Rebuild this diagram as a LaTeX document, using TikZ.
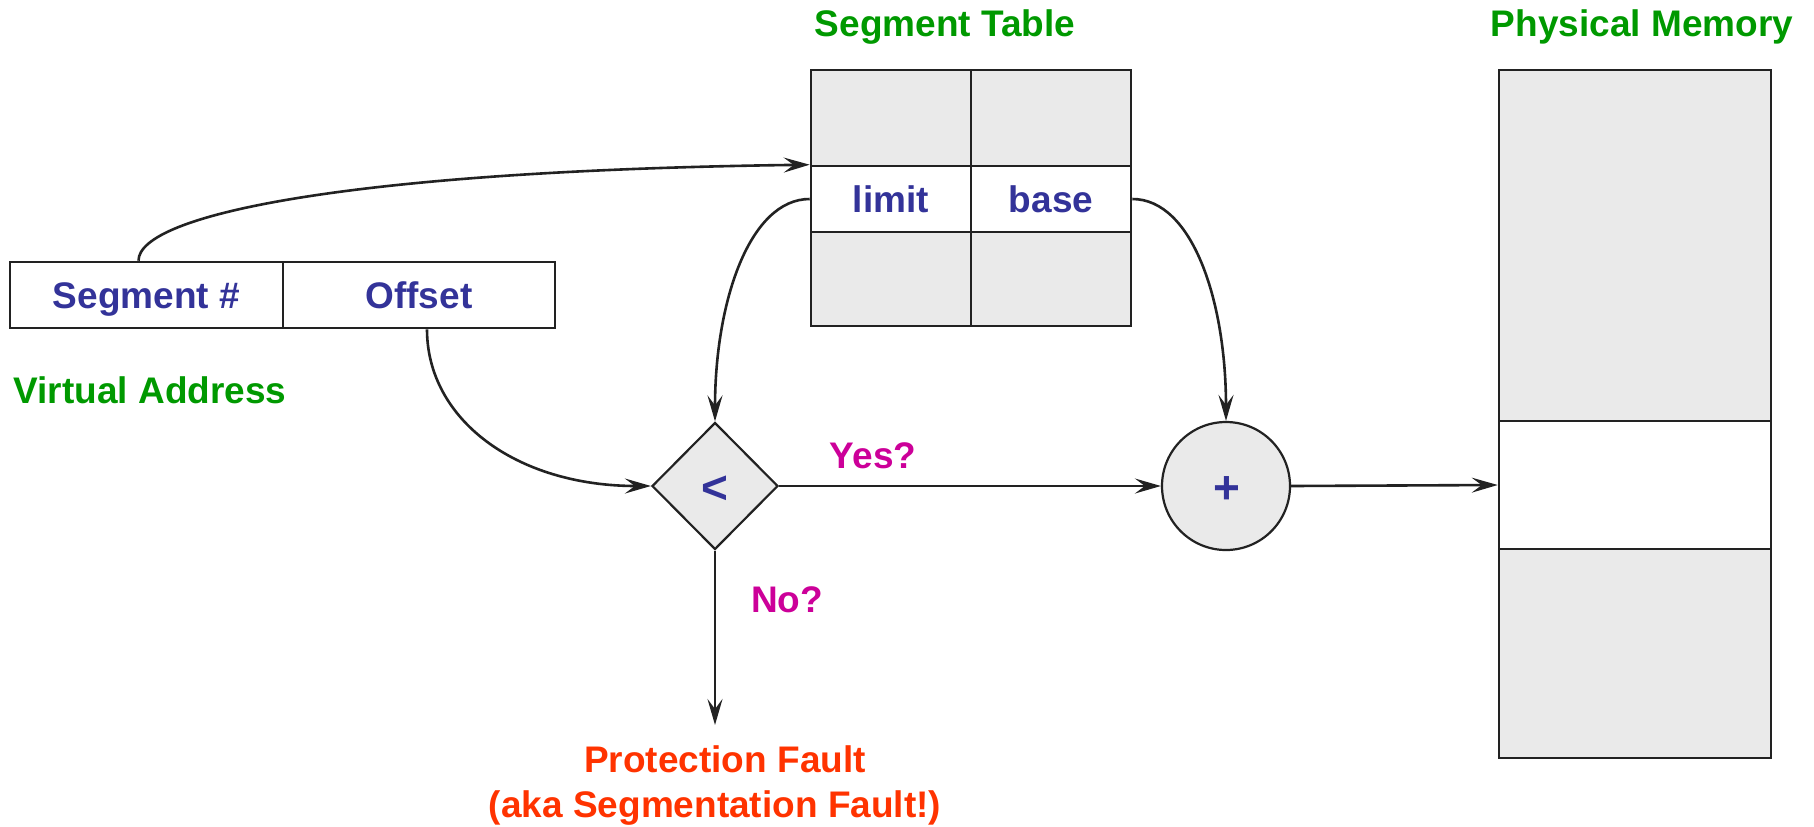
\documentclass[tikz,border=0pt]{standalone}
\usepackage{fontspec}
\setmainfont{Liberation Sans}
\usetikzlibrary{arrows.meta,shapes.geometric}
\definecolor{txtblue}{RGB}{51,51,153}
\definecolor{txtgreen}{RGB}{0,153,0}
\definecolor{txtmag}{RGB}{204,0,153}
\definecolor{txtred}{RGB}{255,51,0}
\definecolor{cellgray}{RGB}{234,234,234}
\definecolor{linecol}{RGB}{34,34,34}
\begin{document}
\begin{tikzpicture}[x=0.5pt,y=-0.5pt,
  every node/.style={font=\fontsize{18.5}{22.5}\selectfont\bfseries},
  box/.style={draw=linecol, line width=1.3pt, inner sep=0pt, text=txtblue, text height=13.2pt, text depth=0pt},
  grayc/.style={box, fill=cellgray},
  whitec/.style={box, fill=white},
  opnode/.style={draw=linecol, line width=1.1pt, fill=cellgray, inner sep=0pt, text=txtblue, font=\fontsize{23}{26}\selectfont\bfseries},
  arr/.style={draw=linecol, line width=1.3pt, -{Stealth[length=13pt,width=7.5pt,inset=5pt]}},
  lbl/.style={anchor=base, inner sep=0pt}
]
\useasboundingbox (0,0) rectangle (1814,826);

% virtual address
\node[whitec, minimum width=136.5pt, minimum height=33pt] (seg) at (146.5,295) {Segment \#};
\node[whitec, minimum width=136pt, minimum height=33pt] (off) at (419,295) {Offset};

% segment table
\node[grayc, minimum width=80pt, minimum height=48pt] (t11) at (891,118) {};
\node[grayc, minimum width=80pt, minimum height=48pt] (t12) at (1051,118) {};
\node[whitec, minimum width=80pt, minimum height=33pt] (tl) at (891,199) {limit};
\node[whitec, minimum width=80pt, minimum height=33pt] (tb) at (1051,199) {base};
\node[grayc, minimum width=80pt, minimum height=47pt] (t31) at (891,279) {};
\node[grayc, minimum width=80pt, minimum height=47pt] (t32) at (1051,279) {};

% physical memory
\node[grayc, minimum width=136pt, minimum height=175.5pt] (pm1) at (1635,245.5) {};
\node[whitec, minimum width=136pt, minimum height=64pt] (pm2) at (1635,485) {};
\node[grayc, minimum width=136pt, minimum height=104.5pt] (pm3) at (1635,653.5) {};

% compare and add
\node[diamond, opnode, minimum width=63pt, minimum height=63.5pt] (dia) at (715,486) {};
\node[circle, opnode, minimum size=64pt] (circ) at (1226,486) {};
\node[text=txtblue, font=\fontsize{23}{26}\selectfont\bfseries, inner sep=0pt] (lt) at (715,490) {<};
\node[text=txtblue, font=\fontsize{23}{26}\selectfont\bfseries, inner sep=0pt] (plus) at (1227,490) {+};

% labels
\node[lbl, text=txtgreen] (st) at (945,36) {Segment Table};
\node[lbl, text=txtgreen] (pmt) at (1642,36.5) {Physical Memory};
\node[lbl, text=txtgreen] (va) at (150,403) {Virtual Address};
\node[lbl, text=txtmag] (yes) at (873,468) {Yes?};
\node[lbl, text=txtmag] (no) at (787,612) {No?};
\coordinate (pfa) at (715,725);
\node[anchor=north, text=txtred, align=center, inner sep=0pt] (pf) at (715,745) {\hspace*{10pt}Protection Fault\\(aka Segmentation Fault!)};

% connectors
\draw[arr] ([xshift=-4pt]seg.north) .. controls +(0,-46) and +(-461,6) .. (tl.north west);
\draw[arr] ([xshift=4pt]off.south) .. controls +(0,90) and +(-135,0) .. (dia.west);
\draw[arr] (tl.west) .. controls +(-60,0) and +(0,-120) .. (dia.north);
\draw[arr] (tb.east) .. controls +(60,0) and +(0,-120) .. (circ.north);
\draw[arr] (dia.east) -- (circ.west);
\draw[arr] (circ.east) -- (pm2.west);
\draw[arr] (dia.south) -- (pfa);
\end{tikzpicture}
\end{document}
